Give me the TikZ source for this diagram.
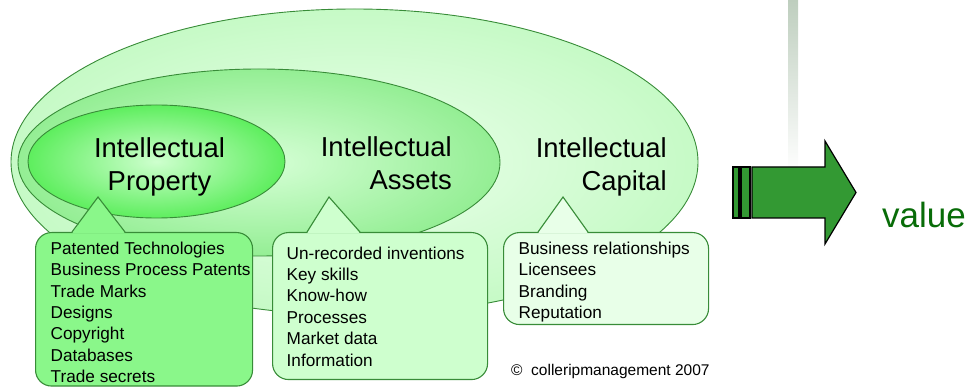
\documentclass[tikz,border=0pt]{standalone}
\usepackage{fontspec}
\setmainfont{Liberation Sans}
\usetikzlibrary{positioning,shapes}
\definecolor{edgegreen}{RGB}{56,140,56}
\definecolor{capin}{RGB}{236,255,236}
\definecolor{capout}{RGB}{198,250,198}
\definecolor{assin}{RGB}{214,255,214}
\definecolor{assout}{RGB}{148,238,148}
\definecolor{propin}{RGB}{206,255,206}
\definecolor{propout}{RGB}{94,238,94}
\definecolor{propbox}{RGB}{138,247,138}
\definecolor{assbox}{RGB}{206,255,206}
\definecolor{capbox}{RGB}{232,255,232}
\definecolor{arrowgreen}{RGB}{51,153,51}
\definecolor{valuegreen}{RGB}{8,108,8}
\definecolor{barshade}{RGB}{190,206,190}

\begin{document}
\begin{tikzpicture}[x=1pt,y=-1pt,
	ellip/.style={draw=edgegreen, line width=0.9pt, shape=ellipse, inner sep=0pt},
	bubble/.style={draw=edgegreen, line width=1.1pt, rounded corners=16pt, inner sep=0pt},
	biglbl/.style={font=\fontsize{27.4}{33}\selectfont, inner sep=0pt},
	listtxt/.style={font=\fontsize{17.2}{21.4}\selectfont, align=left, anchor=north west, inner sep=0pt}]
	\useasboundingbox (0,0) rectangle (975,387);
	\shade[top color=barshade, bottom color=white] (788,0) rectangle (798,172);
	% three nested ellipses
	\node[ellip, inner color=capin, outer color=capout, minimum width=687pt, minimum height=306pt] (capital) at (354.5,162) {};
	\node[ellip, inner color=assin, outer color=assout, minimum width=482pt, minimum height=187pt] (assets) at (259,162.5) {};
	\node[ellip, inner color=propin, outer color=propout, minimum width=257pt, minimum height=113pt] (property) at (156.5,161.5) {};
	% callout boxes
	\node[bubble, fill=propbox, minimum width=217pt, minimum height=153.5pt, anchor=north west] (propbox) at (35,232) {};
	\node[bubble, fill=assbox, minimum width=215pt, minimum height=147pt, anchor=north west] (assbox) at (272,232) {};
	\node[bubble, fill=capbox, minimum width=205pt, minimum height=92pt, anchor=north west] (capbox) at (503,232) {};
	\coordinate (proptip) at (98,197);
	\coordinate (asstip) at (329,197);
	\coordinate (captip) at (563,197);
	\fill[propbox] ([xshift=37pt,yshift=-1.5pt]propbox.north west) -- (proptip) -- ([xshift=90pt,yshift=-1.5pt]propbox.north west) -- cycle;
	\draw[edgegreen, line width=1.1pt] ([xshift=37pt]propbox.north west) -- (proptip) -- ([xshift=90pt]propbox.north west);
	\fill[assbox] ([xshift=35pt,yshift=-1.5pt]assbox.north west) -- (asstip) -- ([xshift=88pt,yshift=-1.5pt]assbox.north west) -- cycle;
	\draw[edgegreen, line width=1.1pt] ([xshift=35pt]assbox.north west) -- (asstip) -- ([xshift=88pt]assbox.north west);
	\fill[capbox] ([xshift=35pt,yshift=-1.5pt]capbox.north west) -- (captip) -- ([xshift=85pt,yshift=-1.5pt]capbox.north west) -- cycle;
	\draw[edgegreen, line width=1.1pt] ([xshift=35pt]capbox.north west) -- (captip) -- ([xshift=85pt]capbox.north west);
	% labels
	\node[biglbl, align=center] (proplbl) at (159.5,166.6) {Intellectual\\Property};
	\node[biglbl, align=right, anchor=east] (asslbl) at (452,163.7) {Intellectual\\Assets};
	\node[biglbl, align=right, anchor=east] (caplbl) at (667,166.6) {Intellectual\\Capital};
	\node[listtxt] (proplist) at (50.5,241.7) {Patented Technologies\\Business Process Patents\\Trade Marks\\Designs\\Copyright\\Databases\\Trade secrets};
	\node[listtxt] (asslist) at (286.5,246.5) {Un-recorded inventions\\Key skills\\Know-how\\Processes\\Market data\\Information};
	\node[listtxt] (caplist) at (518.5,241.7) {Business relationships\\Licensees\\Branding\\Reputation};
	% arrow to value
	\draw[fill=arrowgreen, line width=1.1pt] (733,167) rectangle (739,218);
	\draw[fill=arrowgreen, line width=1.1pt] (741,167) rectangle (750,218);
	\draw[fill=arrowgreen, line width=1.2pt] (752,167) -- (825,167) -- (825,141) -- (856,192.5) -- (825,244) -- (825,218) -- (752,218) -- cycle;
	\node[anchor=base west, font=\fontsize{35}{40}\selectfont, text=valuegreen, inner sep=0pt] (value) at (882,227.7) {value};
	\node[anchor=base west, font=\fontsize{15.5}{18}\selectfont, inner sep=0pt] (copy) at (511,375.7) {© \ colleripmanagement 2007};
\end{tikzpicture}
\end{document}
